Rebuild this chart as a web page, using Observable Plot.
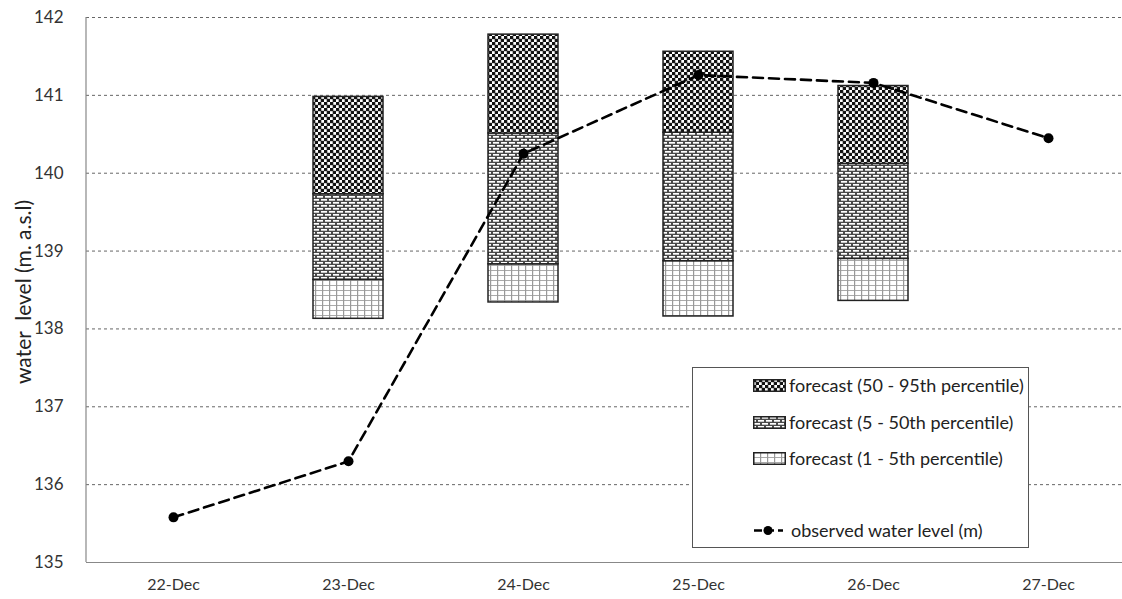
<!DOCTYPE html>
<html>
<head>
<meta charset="utf-8">
<script src="https://cdn.jsdelivr.net/npm/d3@7"></script>
<script src="https://cdn.jsdelivr.net/npm/@observablehq/plot@0.6"></script>
<style>
  html, body { margin: 0; padding: 0; background: #fff; }
  #wrap { position: relative; width: 1122px; height: 599px; font-family: Lato, "Open Sans", sans-serif; }
  #legend { position: absolute; left: 692px; top: 367px; width: 337px; height: 181px; border: 1px solid #555; background: #fff; box-sizing: border-box; }
  .row { position: absolute; left: 60px; display: flex; align-items: center; font-size: 18px; color: #222; height: 22px; white-space: nowrap; }
  .row svg { margin-right: 3px; }
</style>
</head>
<body>
<svg width="0" height="0" style="position:absolute">
  <defs>
    <pattern id="pHigh" width="6" height="6" patternUnits="userSpaceOnUse">
      <rect width="6" height="6" fill="#fff"/>
      <rect x="0" y="0" width="3" height="3" fill="#111"/>
      <rect x="3" y="3" width="3" height="3" fill="#111"/>
      <rect x="2.5" y="0" width="1" height="6" fill="#222" opacity="0.6"/>
      <rect x="0" y="2.5" width="6" height="1" fill="#222" opacity="0.4"/>
    </pattern>
    <pattern id="pMid" width="8" height="6" patternUnits="userSpaceOnUse">
      <rect width="8" height="6" fill="#4a4a4a"/>
      <rect x="1" y="1" width="6" height="1.7" fill="#fff"/>
      <rect x="5" y="4" width="6" height="1.7" fill="#fff"/>
      <rect x="-3" y="4" width="6" height="1.7" fill="#fff"/>
    </pattern>
    <pattern id="pLow" width="7" height="5" patternUnits="userSpaceOnUse">
      <rect width="7" height="5" fill="#fff"/>
      <rect x="0" y="0" width="7" height="1" fill="#aaa"/>
      <rect x="0" y="0" width="1.2" height="5" fill="#999"/>
    </pattern>
  </defs>
</svg>
<div id="wrap">
  <div id="chart"></div>
  <div id="legend"></div>
</div>
<script>
const dates = ["22-Dec", "23-Dec", "24-Dec", "25-Dec", "26-Dec", "27-Dec"];
const observed = [135.58, 136.30, 140.25, 141.26, 141.16, 140.45];
const forecastDates = ["23-Dec", "24-Dec", "25-Dec", "26-Dec"];
const p1 = [138.13, 138.34, 138.16, 138.36];
const p5 = [138.63, 138.83, 138.87, 138.90];
const p50 = [139.73, 140.51, 140.52, 140.12];
const p95 = [140.98, 141.78, 141.56, 141.12];
const yTicks = [135, 136, 137, 138, 139, 140, 141, 142];
const gridTicks = [136, 137, 138, 139, 140, 141, 142];
const legendLabels = [
  "forecast (50 - 95th percentile)",
  "forecast (5 - 50th percentile)",
  "forecast (1 - 5th percentile)",
  "observed water level (m)"
];

const obs = dates.map((d, i) => ({date: d, value: observed[i]}));
const fc = forecastDates.map((d, i) => ({date: d, p1: p1[i], p5: p5[i], p50: p50[i], p95: p95[i]}));

const chart = Plot.plot({
  width: 1122,
  height: 599,
  marginLeft: 86,
  marginRight: 0,
  marginTop: 17,
  marginBottom: 37,
  style: {fontFamily: "Lato, 'Open Sans', sans-serif", fontSize: "16px", color: "#333", background: "#fff"},
  x: {type: "band", domain: dates, range: [86, 1136], paddingInner: 0.6, paddingOuter: 0.3, label: null, tickSize: 0, tickPadding: 16},
  y: {domain: [135, 142], ticks: yTicks, tickFormat: d => String(d), label: null, tickSize: 0, tickPadding: 23},
  marks: [
    Plot.ruleY(gridTicks, {stroke: "#666", strokeDasharray: "3,3", strokeWidth: 1}),
    Plot.barY(fc, {x: "date", y1: "p1", y2: "p5", fill: "url(#pLow)", stroke: "#222", strokeWidth: 1.5}),
    Plot.barY(fc, {x: "date", y1: "p5", y2: "p50", fill: "url(#pMid)", stroke: "#222", strokeWidth: 1.5}),
    Plot.barY(fc, {x: "date", y1: "p50", y2: "p95", fill: "url(#pHigh)", stroke: "#222", strokeWidth: 1.5}),
    Plot.line(obs, {x: "date", y: "value", stroke: "#000", strokeWidth: 2.6, strokeDasharray: "10,6"}),
    Plot.dot(obs, {x: "date", y: "value", r: 5, fill: "#000"}),
    Plot.ruleY([135], {stroke: "#888", strokeWidth: 1.2})
  ]
});
document.getElementById("chart").appendChild(chart);

// y tick label size
d3.select(chart).selectAll("g[aria-label='y-axis tick label'] text, g[aria-label='y-axis'] text").attr("font-size", 17);

// left axis line
const ys = chart.scale("y");
d3.select(chart).append("line")
  .attr("x1", 86).attr("x2", 86)
  .attr("y1", ys.apply(142)).attr("y2", ys.apply(135))
  .attr("stroke", "#888").attr("stroke-width", 1.2);

// y-axis title
d3.select(chart).append("text")
  .attr("transform", `translate(31,292) rotate(-90)`)
  .attr("text-anchor", "middle")
  .attr("font-size", 21)
  .attr("fill", "#222")
  .attr("font-family", "Lato, 'Open Sans', sans-serif")
  .text("water  level (m. a.s.l)");

// legend
const legend = document.getElementById("legend");
const fills = ["pHigh", "pMid", "pLow"];
const tops = [6, 43, 79, 151];
legendLabels.forEach((lab, i) => {
  const row = document.createElement("div");
  row.className = "row";
  row.style.top = tops[i] + "px";
  let sw;
  if (i < 3) {
    sw = `<svg width="33" height="13"><rect x="0.75" y="0.75" width="31.5" height="11.5" fill="url(#${fills[i]})" stroke="#222" stroke-width="1.5"/></svg>`;
  } else {
    sw = `<svg width="32" height="13" style="margin-right:6px"><line x1="1" x2="30" y1="6.5" y2="6.5" stroke="#000" stroke-width="2.6" stroke-dasharray="8,4"/><circle cx="15" cy="6.5" r="4.5" fill="#000"/></svg>`;
  }
  row.innerHTML = sw + `<span>${lab}</span>`;
  legend.appendChild(row);
});
</script>
</body>
</html>
